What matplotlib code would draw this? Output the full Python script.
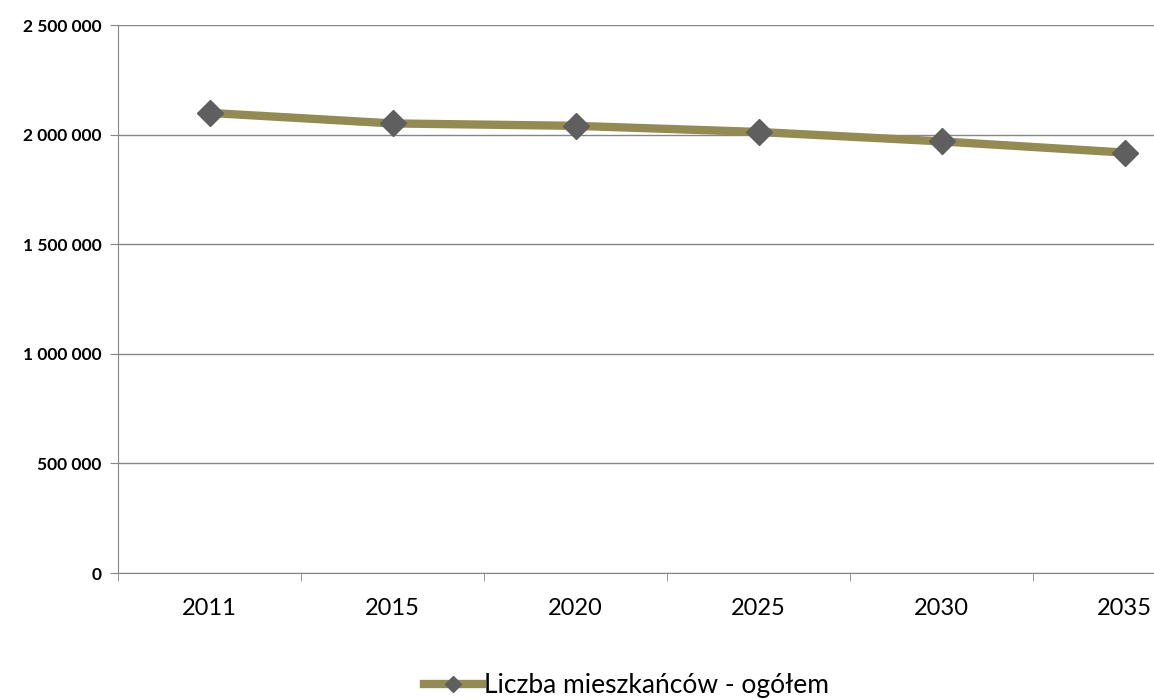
import matplotlib.pyplot as plt
from matplotlib.ticker import FuncFormatter

# dane
lata = ["2011", "2015", "2020", "2025", "2030", "2035"]
mieszkancy = [2099000, 2051000, 2040000, 2012000, 1969000, 1918000]
y_ticks = [0, 500000, 1000000, 1500000, 2000000, 2500000]

plt.rcParams['font.family'] = ['Lato', 'DejaVu Sans']

fig = plt.figure(figsize=(11.54, 7), dpi=100)
# os wychodzi poza prawy brzeg obrazka, jak w oryginale
ax = fig.add_axes([118 / 1154, 127 / 700, 1098 / 1154, 548 / 700])

x = list(range(len(lata)))
ax.plot(x, mieszkancy, color='#948a54', lw=6, marker='D', markersize=13.5,
        markerfacecolor='#5f5f5f', markeredgecolor='#5f5f5f',
        label='Liczba mieszkańców - ogółem', zorder=3, solid_joinstyle='round')

ax.set_xlim(-0.5, len(lata) - 0.5)
ax.set_ylim(0, 2500000)
ax.set_yticks(y_ticks)
ax.yaxis.set_major_formatter(FuncFormatter(lambda v, p: f"{int(v):,}".replace(",", " ")))
ax.set_xticks(x)
ax.set_xticklabels(lata, fontsize=17)
ax.set_xticks([i - 0.5 for i in range(len(lata) + 1)], minor=True)
ax.tick_params(axis='x', which='major', length=0, pad=18)
ax.tick_params(axis='x', which='minor', length=6, color='#868686')
ax.tick_params(axis='y', length=6, color='#868686', pad=6)
for lab in ax.get_yticklabels():
    lab.set_fontsize(12.5)
    lab.set_fontweight('bold')

ax.grid(axis='y', color='#868686', lw=1)
ax.set_axisbelow(True)
for s in ['top', 'right']:
    ax.spines[s].set_visible(False)
for s in ['left', 'bottom']:
    ax.spines[s].set_color('#868686')

fig.legend(loc='center', bbox_to_anchor=(0.543, 0.02), frameon=False,
           fontsize=19, handlelength=2.2, handletextpad=0.05, markerscale=0.6)

fig.savefig('out.png', dpi=100)
